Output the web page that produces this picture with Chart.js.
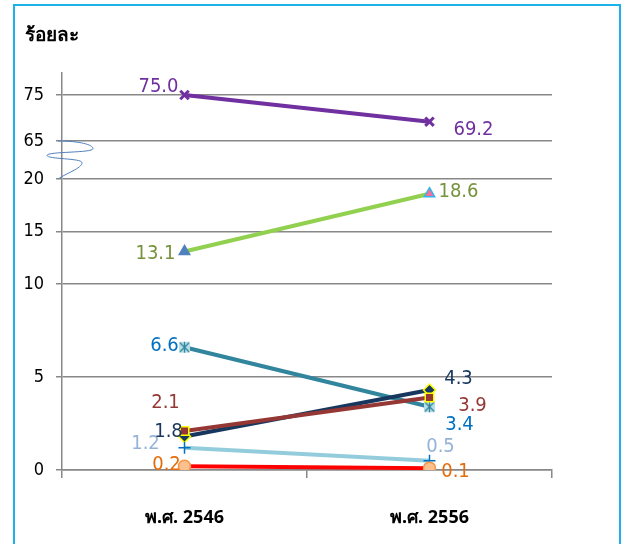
<!DOCTYPE html>
<html>
<head>
<meta charset="utf-8">
<script src="https://cdn.jsdelivr.net/npm/chart.js@4"></script>
<style>
  html, body { margin: 0; padding: 0; background: #fff; }
  canvas { display: block; }
</style>
</head>
<body>
<canvas id="grafico" width="625" height="544"></canvas>
<script>
// dati
const categorie = ["พ.ศ. 2546", "พ.ศ. 2556"];
const serieViola = [75.0, 69.2];
const serieVerde = [13.1, 18.6];
const serieTeal = [6.6, 3.4];
const serieBlu = [1.8, 4.3];
const serieMarrone = [2.1, 3.9];
const serieAzzurra = [1.2, 0.5];
const serieRossa = [0.2, 0.1];
const valoriTick = [0, 5, 10, 15, 20, 65, 75];

// scala spezzata: 0-10, 10-20, salto, 65-75
function versoAsse(v) {
    if (v <= 10) return v * 18.6;
    if (v <= 20) return 186 + (v - 10) * 10.5;
    return 329 + (v - 65) * 4.6;
}

// marker a stella dentro un quadratino
function markerStella() {
    let c = document.createElement("canvas");
    c.width = 13; c.height = 13;
    let g = c.getContext("2d");
    g.fillStyle = "#B7DEE8";
    g.fillRect(1, 1, 11, 11);
    g.strokeStyle = "#31859C";
    g.lineWidth = 1.3;
    g.beginPath();
    g.moveTo(2, 2); g.lineTo(11, 11);
    g.moveTo(11, 2); g.lineTo(2, 11);
    g.moveTo(6.5, 1); g.lineTo(6.5, 12);
    g.stroke();
    return c;
}

// posizione delle etichette rispetto al punto
const etichetteRossa = [[-18, -1], [26, 4]];
const etichetteAzzurra = [[-39, -4], [11, -14]];
const etichetteMarrone = [[-19, -28], [43, 8]];
const etichetteBlu = [[-16, -5], [29, -11]];
const etichetteTeal = [[-20, -1], [30, 18]];
const etichetteVerde = [[-29, 2], [29, -2]];
const etichetteViola = [[-26, -8], [44, 8]];

const fontNumeri = "'Liberation Sans Narrow', 'DejaVu Sans Condensed', sans-serif";

function serie(dati, colore, extra) {
    return Object.assign({
        data: dati.map(versoAsse),
        valori: dati,
        borderColor: colore,
        borderWidth: 4,
        tension: 0,
        pointRadius: 6,
        pointBorderWidth: 1.5
    }, extra);
}

const datasets = [
    serie(serieRossa, "#FF0000", {
        pointStyle: "circle", pointBackgroundColor: "#FAC090", pointBorderColor: "#F79646",
        coloreEtichetta: "#E46C0A", etichette: etichetteRossa
    }),
    serie(serieAzzurra, "#93CDDD", {
        pointStyle: "cross", pointBorderColor: "#0070C0", pointBorderWidth: 1.5,
        coloreEtichetta: "#95B3D7", etichette: etichetteAzzurra
    }),
    serie(serieMarrone, "#953735", {
        pointStyle: "rect", pointRadius: 6, pointBackgroundColor: "#953735", pointBorderColor: "#FFFF00",
        coloreEtichetta: "#953735", etichette: etichetteMarrone
    }),
    serie(serieBlu, "#17375E", {
        pointStyle: "rectRot", pointRadius: 6, pointBackgroundColor: "#17375E", pointBorderColor: "#FFFF00",
        coloreEtichetta: "#17375E", etichette: etichetteBlu
    }),
    serie(serieTeal, "#31859C", {
        pointStyle: markerStella(),
        coloreEtichetta: "#0070C0", etichette: etichetteTeal
    }),
    serie(serieVerde, "#92D050", {
        pointStyle: "triangle", pointBackgroundColor: ["#4F81BD", "#F7709B"], pointBorderColor: ["#4F81BD", "#2FB5E8"],
        coloreEtichetta: "#76923C", etichette: etichetteVerde
    }),
    serie(serieViola, "#7030A0", {
        pointStyle: "crossRot", pointBorderColor: "#7030A0", pointBorderWidth: 3,
        coloreEtichetta: "#7030A0", etichette: etichetteViola
    })
];

// etichette dei valori
const pluginEtichette = {
    id: "etichette",
    afterDatasetsDraw(chart) {
        let ctx = chart.ctx;
        ctx.save();
        ctx.font = "20px " + fontNumeri;
        ctx.textAlign = "center";
        ctx.textBaseline = "middle";
        chart.data.datasets.forEach((ds, i) => {
            let meta = chart.getDatasetMeta(i);
            meta.data.forEach((p, j) => {
                ctx.fillStyle = ds.coloreEtichetta;
                ctx.fillText(ds.valori[j].toFixed(1), p.x + ds.etichette[j][0], p.y + ds.etichette[j][1]);
            });
        });
        ctx.restore();
    }
};

// cornice, titolo asse e segno di interruzione
const pluginDecorazioni = {
    id: "decorazioni",
    afterDraw(chart) {
        let ctx = chart.ctx;
        let y = chart.scales.y;
        ctx.save();
        ctx.strokeStyle = "#1DB1EA";
        ctx.lineWidth = 2;
        ctx.beginPath();
        ctx.moveTo(14, 560); ctx.lineTo(14, 5); ctx.lineTo(620, 5); ctx.lineTo(620, 560);
        ctx.stroke();

        ctx.fillStyle = "#000";
        ctx.font = "bold 19px 'Noto Sans', 'DejaVu Sans', sans-serif";
        ctx.textAlign = "left";
        ctx.textBaseline = "middle";
        ctx.fillText("ร้อยละ", 25, 36);

        let ax = y.right;
        let y1 = y.getPixelForValue(versoAsse(65));
        let y2 = y.getPixelForValue(versoAsse(20));
        let h = y2 - y1;
        ctx.strokeStyle = "#4F81BD";
        ctx.lineWidth = 1;
        ctx.beginPath();
        ctx.moveTo(ax - 4, y1);
        ctx.bezierCurveTo(ax + 18, y1, ax + 31, y1 + h * 0.1, ax + 31, y1 + h * 0.2);
        ctx.bezierCurveTo(ax + 31, y1 + h * 0.32, ax - 15, y1 + h * 0.27, ax - 15, y1 + h * 0.38);
        ctx.bezierCurveTo(ax - 15, y1 + h * 0.48, ax + 20, y1 + h * 0.45, ax + 20, y1 + h * 0.57);
        ctx.bezierCurveTo(ax + 20, y1 + h * 0.72, ax + 4, y1 + h * 0.85, ax - 4, y2);
        ctx.stroke();
        ctx.restore();
    }
};

const coloreGriglia = "#888888";

new Chart(document.getElementById("grafico").getContext("2d"), {
    type: "line",
    data: { labels: categorie, datasets: datasets },
    options: {
        responsive: false,
        animation: false,
        layout: { padding: { top: 73, right: 73, left: 0, bottom: 0 } },
        plugins: { legend: { display: false }, tooltip: { enabled: false } },
        scales: {
            x: {
                type: "category",
                offset: true,
                grid: { offset: true, drawOnChartArea: false, drawTicks: true, tickLength: 8, color: coloreGriglia, lineWidth: 1.5 },
                border: { color: coloreGriglia, width: 1.5 },
                ticks: {
                    color: "#000",
                    padding: 29,
                    maxRotation: 0,
                    font: { family: "'Noto Sans', 'DejaVu Sans', sans-serif", size: 18, weight: "bold" }
                },
                afterFit(scale) { scale.height = 74; }
            },
            y: {
                min: 0,
                max: 397,
                grid: { color: coloreGriglia, lineWidth: 1.5, tickLength: 6 },
                border: { color: coloreGriglia, width: 1.5 },
                afterBuildTicks(scale) {
                    scale.ticks = valoriTick.map(v => ({ value: versoAsse(v) }));
                },
                ticks: {
                    autoSkip: false,
                    color: "#000",
                    padding: 12,
                    font: { family: fontNumeri, size: 18 },
                    callback: (val, i) => valoriTick[i]
                },
                afterFit(scale) { scale.width = 62; }
            }
        }
    },
    plugins: [pluginEtichette, pluginDecorazioni]
});
</script>
</body>
</html>
